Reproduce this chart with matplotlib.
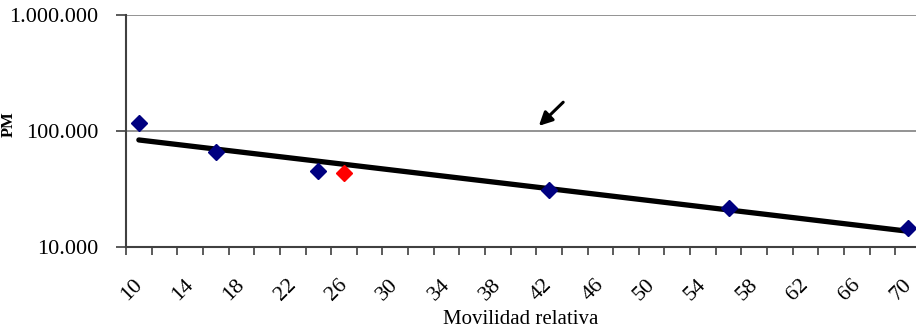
import numpy as np
import matplotlib.pyplot as plt
from matplotlib import ticker
from matplotlib.transforms import ScaledTranslation

# muestras (movilidad relativa vs peso molecular)
mov_std = [11, 17, 25, 43, 57, 71]
pm_std = [116500, 66000, 45000, 31000, 21500, 14400]
mov_unknown = [27]
pm_unknown = [43000]

# linea de tendencia exponencial: PM = a * exp(b * x)
trend_a = 116000
trend_b = -0.0302

x_ticks = list(range(10, 72, 2))
x_labels = [str(v) if (v - 10) % 4 == 0 else '' for v in x_ticks]
y_ticks = [10000, 100000, 1000000]

arrow_tip = (42.2, 110000)
arrow_tail = (44.1, 176000)

plt.rcParams['font.family'] = ['Liberation Serif', 'DejaVu Serif']

fig = plt.figure(figsize=(9.16, 3.31), dpi=100)
ax = fig.add_axes([0.1376, 0.2547, 0.8624, 0.7009])

ax.set_yscale('log')
ax.set_ylim(10000, 1000000)
ax.set_xlim(10, 71.62)

for yv in y_ticks[1:]:
    ax.axhline(yv, color='#808080', lw=1.2, zorder=1)

xs = np.linspace(min(mov_std), max(mov_std), 100)
ax.plot(xs, trend_a * np.exp(trend_b * xs), color='black', lw=3.8,
        solid_capstyle='round', zorder=3)
ax.plot(mov_std, pm_std, linestyle='none', marker='D', ms=7.8,
        color='#000080', zorder=4)
ax.plot(mov_unknown, pm_unknown, linestyle='none', marker='D', ms=7.8,
        color='#ff0000', zorder=4)

ax.annotate('', xy=arrow_tip, xytext=arrow_tail,
            arrowprops=dict(arrowstyle='-|>', color='black', lw=2.2,
                            mutation_scale=20, shrinkA=0, shrinkB=0))

ax.yaxis.set_major_formatter(
    ticker.FuncFormatter(lambda v, p: f"{int(round(v)):,}".replace(',', '.')))
ax.yaxis.set_minor_locator(ticker.NullLocator())
ax.set_yticks(y_ticks)
ax.tick_params(axis='y', direction='out', length=7, width=1.2, pad=13,
               labelsize=16, color='#404040')

ax.set_xticks(x_ticks)
ax.set_xticklabels(x_labels)
ax.tick_params(axis='x', direction='out', length=6, width=1.2, pad=25,
               labelsize=16, color='#404040')
offset = ScaledTranslation(5.5 / 100, 0, fig.dpi_scale_trans)
for lbl in ax.get_xticklabels():
    lbl.set_rotation(45)
    lbl.set_rotation_mode('anchor')
    lbl.set_ha('center')
    lbl.set_va('center')
    lbl.set_transform(lbl.get_transform() + offset)

for side in ['top', 'right']:
    ax.spines[side].set_visible(False)
for side in ['left', 'bottom']:
    ax.spines[side].set_color('#404040')
    ax.spines[side].set_linewidth(1.5)

ax.set_xlabel('Movilidad relativa', fontsize=15)
ax.xaxis.set_label_coords(0.5, -0.275)
ax.set_ylabel('PM', fontsize=12, fontweight='bold')
ax.yaxis.set_label_coords(-0.138, 0.53)

fig.savefig('out.png', dpi=100)
